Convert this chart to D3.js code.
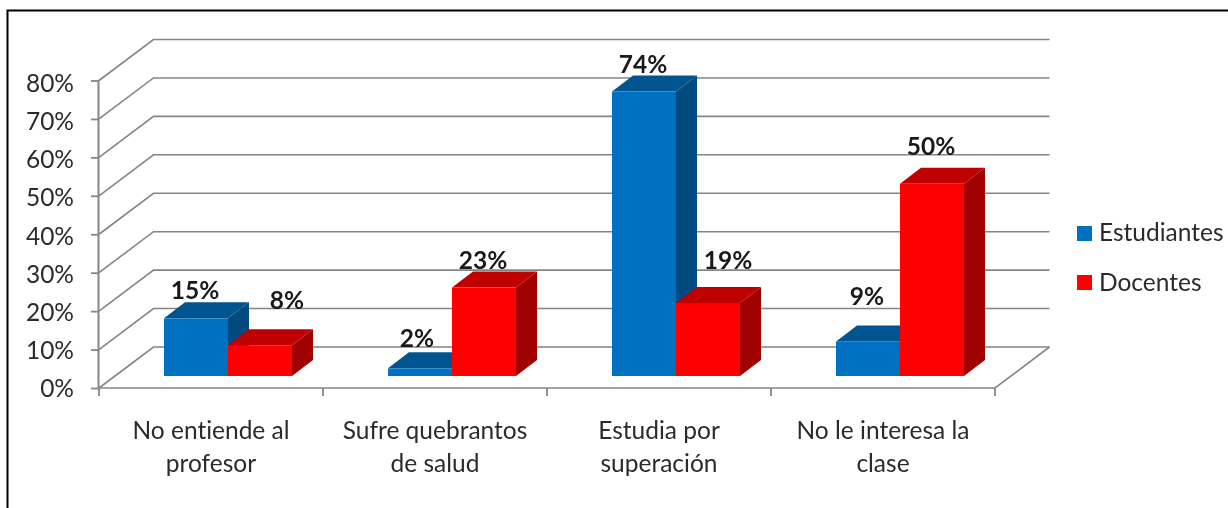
<!DOCTYPE html>
<html><head><meta charset="utf-8">
<script src="https://cdn.jsdelivr.net/npm/d3@7"></script>
<style>html,body{margin:0;padding:0;background:#fff}svg{display:block;filter:blur(0.45px)}text{font-family:Lato,sans-serif;font-variant-ligatures:none}</style>
</head><body><svg id="c" width="1228" height="508"></svg>
<script>
const categories = [["No entiende al","profesor"],["Sufre quebrantos","de salud"],["Estudia por","superación"],["No le interesa la","clase"]];
const seriesNames = ["Estudiantes","Docentes"];
const estudiantes = [15,2,74,9];
const docentes = [8,23,19,50];
const yTicks = [0,10,20,30,40,50,60,70,80];
const labelShift = [[[-1,0],[27,-17]],[[-3,-2],[-1,0]],[[-1,0],[20,-15]],[[-1,-17],[-1,-10]]];

const svg = d3.select("#c");
const W = {left:99,right:995,top:80.5,base:388,dx:54.5,dy:-41};
const y = d3.scaleLinear().domain([0,80]).range([W.base,W.top]);
const yLabel = d3.scaleLinear().domain([0,80]).range([397,92]);
const x = d3.scaleBand().domain(d3.range(categories.length)).range([W.left,W.right]);
const grid = "#858585";
const FS = 24.5;

svg.append("path").attr("d","M1228,10.5H7.5V508").attr("fill","none").attr("stroke","#000").attr("stroke-width",2);

// walls
yTicks.forEach(t=>{
  svg.append("path").attr("fill","none").attr("stroke",grid).attr("stroke-width",1.6)
    .attr("d",`M${W.left},${y(t)}L${W.left+W.dx},${y(t)+W.dy}H${W.right+W.dx}`);
});
svg.append("path").attr("fill","none").attr("stroke",grid).attr("stroke-width",1.6)
  .attr("d",`M${W.left},${W.base}H${W.right}L${W.right+W.dx},${W.base+W.dy}`);
svg.append("line").attr("x1",W.left-.5).attr("x2",W.left-.5).attr("y1",W.top).attr("y2",W.base).attr("stroke",grid).attr("stroke-width",2);

// axes
const yAxis = d3.axisLeft(y).tickValues(yTicks).tickSize(8).tickFormat(d=>d+"%");
const gy = svg.append("g").attr("transform",`translate(${W.left},0)`).call(yAxis);
gy.select(".domain").remove();
gy.selectAll("line").attr("stroke",grid).attr("stroke-width",1.8);
gy.selectAll("text").remove();
yTicks.forEach(t=>{
  svg.append("text").attr("x",74).attr("y",yLabel(t)).attr("text-anchor","end").attr("font-size",FS).attr("fill","#2b2b2b").text(t+"%");
});

const gx = svg.append("g");
d3.range(categories.length+1).forEach(i=>{
  const px = W.left + i*x.bandwidth();
  gx.append("line").attr("x1",px).attr("x2",px).attr("y1",W.base).attr("y2",W.base+8).attr("stroke",grid).attr("stroke-width",1.8);
});
categories.forEach((c,i)=>{
  c.forEach((ln,j)=>{
    gx.append("text").attr("x",x(i)+x.bandwidth()/2).attr("y",439+j*33).attr("text-anchor","middle").attr("font-size",FS).attr("fill","#2b2b2b").text(ln);
  });
});

// bars
const colours = [{f:"#0070c0",t:"#00548f",s:"#004a80"},{f:"#ff0000",t:"#bf0000",s:"#a00000"}];
const barW = 64, floorY = 376, d = {x:21,y:-16}, inset = 65;
const h = v => W.base - y(v);
categories.forEach((_,i)=>{
  [estudiantes[i],docentes[i]].forEach((v,k)=>{
    const c = colours[k], x0 = x(i)+inset+k*barW, x1 = x0+barW, top = floorY-h(v);
    svg.append("path").attr("fill",c.s).attr("d",`M${x1},${floorY}L${x1+d.x},${floorY+d.y}V${top+d.y}L${x1},${top}Z`);
    svg.append("path").attr("fill",c.t).attr("d",`M${x0},${top}L${x0+d.x},${top+d.y}H${x1+d.x}L${x1},${top}Z`);
    svg.append("rect").attr("x",x0).attr("y",top).attr("width",barW).attr("height",h(v)).attr("fill",c.f);
  });
});
// labels drawn on top
categories.forEach((_,i)=>{
  [estudiantes[i],docentes[i]].forEach((v,k)=>{
    const x0 = x(i)+inset+k*barW, top = floorY-h(v), s = labelShift[i][k];
    svg.append("text").attr("x",x0+barW/2+s[0]).attr("y",top-19+s[1]).attr("text-anchor","middle")
      .attr("font-size",FS).attr("font-weight",700).attr("fill","#1a1a1a").text(v+"%");
  });
});

// legend
seriesNames.forEach((n,k)=>{
  svg.append("rect").attr("x",1077).attr("y",226+k*49).attr("width",15).attr("height",15).attr("fill",colours[k].f);
  svg.append("text").attr("x",1099).attr("y",241+k*49.5).attr("font-size",FS).attr("fill","#2b2b2b").text(n);
});
</script></body></html>
